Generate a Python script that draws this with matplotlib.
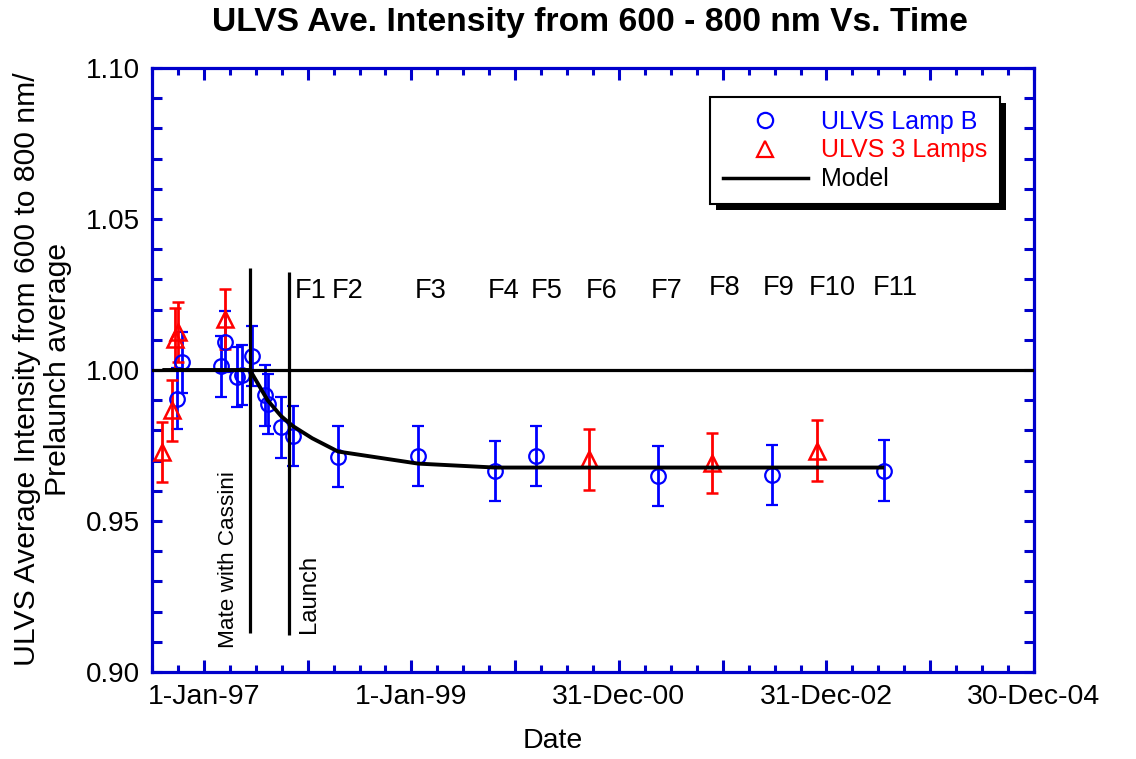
import matplotlib
matplotlib.use("Agg")
import matplotlib.pyplot as plt
import matplotlib.dates as mdates
from matplotlib.lines import Line2D
from matplotlib.patches import Rectangle
from matplotlib.ticker import FixedLocator, FixedFormatter
import numpy as np

plt.rcParams['font.family'] = ['Liberation Sans', 'DejaVu Sans']

# ---------------- data ----------------
lampb_dates = ['1996-09-30', '1996-10-16', '1997-03-02', '1997-03-16', '1997-04-29',
               '1997-05-15', '1997-06-21', '1997-08-05', '1997-08-13', '1997-09-29',
               '1997-11-09', '1998-04-18', '1999-01-25', '1999-10-22', '2000-03-15',
               '2001-05-19', '2002-06-21', '2003-07-22']
lampb_vals = [0.9905, 1.0025, 1.0012, 1.0094, 0.9976,
              0.9984, 1.0047, 0.9916, 0.9887, 0.9810,
              0.9781, 0.9713, 0.9715, 0.9666, 0.9716,
              0.9650, 0.9653, 0.9667]
lampb_err = [0.01, 0.01, 0.01, 0.01, 0.01, 0.01, 0.01, 0.01, 0.01, 0.01,
             0.01, 0.01, 0.01, 0.01, 0.01, 0.01, 0.01, 0.01]

lamps3_dates = ['1996-08-08', '1996-09-12', '1996-09-21', '1996-10-01', '1997-03-17',
                '2000-09-16', '2001-11-22', '2002-11-29']
lamps3_vals = [0.9729, 0.9866, 1.0104, 1.0125, 1.0168, 0.9704, 0.9692, 0.9733]
lamps3_err = [0.01, 0.01, 0.01, 0.01, 0.01, 0.01, 0.01, 0.01]

model_dates = ['1996-08-08', '1997-06-12', '1997-08-13', '1997-09-29', '1997-11-09',
               '1998-01-17', '1998-04-18', '1999-01-25', '1999-10-22', '2003-07-22']
model_vals = [1.0000, 1.0000, 0.9900, 0.9848, 0.9815, 0.9774, 0.9730, 0.9690, 0.9677, 0.9677]

flyby_labels = ['F1', 'F2', 'F3', 'F4', 'F5', 'F6', 'F7', 'F8', 'F9', 'F10', 'F11']
flyby_label_dates = ['1997-11-15', '1998-03-28', '1999-01-11', '1999-09-25', '2000-02-24',
                     '2000-09-04', '2001-04-21', '2001-11-12', '2002-05-20', '2002-10-29',
                     '2003-06-12']
flyby_label_y = [1.0237, 1.0237, 1.0237, 1.0237, 1.0237, 1.0237, 1.0237,
                 1.0247, 1.0247, 1.0247, 1.0247]

event_labels = ['Mate with Cassini', 'Launch']
event_dates = ['1997-06-12', '1997-10-28']
event_top = [1.0337, 1.0326]
event_bottom = [0.9128, 0.9121]
event_label_y = [0.9079, 0.9128]

xtick_dates = ['1997-01-01', '1999-01-01', '2000-12-31', '2002-12-31', '2004-12-30']
xtick_labels = ['1-Jan-97', '1-Jan-99', '31-Dec-00', '31-Dec-02', '30-Dec-04']
ytick_vals = [0.90, 0.95, 1.00, 1.05, 1.10]
ytick_labels = ['0.90', '0.95', '1.00', '1.05', '1.10']

# ---------------- figure ----------------
W, H = 1136, 759
fig = plt.figure(figsize=(W / 100, H / 100), dpi=100)
ax = fig.add_axes([152 / W, 1 - 672 / H, (1034 - 152) / W, (672 - 68) / H])

AXBLUE = '#0000CC'
BLUE = '#0000FF'
RED = '#FF0000'

d2n = mdates.datestr2num
lb_x = d2n(lampb_dates)
l3_x = d2n(lamps3_dates)
md_x = d2n(model_dates)
xt = d2n(xtick_dates)

base = xt[0]
xmin = base - 182.5
xmax = xt[-1]

# reference line at 1.00
ax.axhline(1.0, color='black', lw=2.3, zorder=4)

ax.errorbar(lb_x, lampb_vals, yerr=lampb_err, fmt='o', ms=10.5, mfc='none', mec=BLUE,
            mew=1.6, ecolor=BLUE, elinewidth=2.0, capsize=4.5, capthick=2.0, zorder=3)
ax.errorbar(l3_x, lamps3_vals, yerr=lamps3_err, fmt='^', ms=11, mfc='none', mec=RED,
            mew=1.8, ecolor=RED, elinewidth=2.0, capsize=4.5, capthick=2.0, zorder=3)
ax.plot(md_x, model_vals, color='black', lw=2.8, zorder=4, solid_capstyle='butt')

ev_x = d2n(event_dates)
ax.vlines(ev_x, event_bottom, event_top, color='black', lw=2.3, zorder=4)
ax.annotate(event_labels[0], xy=(ev_x[0], event_label_y[0]), xytext=(-11, 0),
            textcoords='offset pixels', rotation=90, ha='right', va='bottom', fontsize=16.2)
ax.annotate(event_labels[1], xy=(ev_x[1], event_label_y[1]), xytext=(9, 0),
            textcoords='offset pixels', rotation=90, ha='left', va='bottom', fontsize=17.2)

for lab, d, yv in zip(flyby_labels, d2n(flyby_label_dates), flyby_label_y):
    ax.text(d, yv, lab, ha='left', va='baseline', fontsize=19.6)

# axes
ax.set_xlim(xmin, xmax)
ax.set_ylim(0.90, 1.10)

major_x = np.arange(base - 365, xmax + 1, 365.0)
minor_x = np.arange(base - 365, xmax + 1, 91.25)
ax.xaxis.set_major_locator(FixedLocator(major_x))
ax.xaxis.set_minor_locator(FixedLocator(minor_x))
maj_labels = []
for v in major_x:
    lab = ''
    for t, tl in zip(xt, xtick_labels):
        if abs(v - t) < 3:
            lab = tl
    maj_labels.append(lab)
ax.xaxis.set_major_formatter(FixedFormatter(maj_labels))

ax.yaxis.set_major_locator(FixedLocator(ytick_vals))
ax.yaxis.set_major_formatter(FixedFormatter(ytick_labels))
ax.yaxis.set_minor_locator(FixedLocator(np.arange(0.90, 1.1001, 0.01)))

ax.tick_params(which='both', direction='in', top=True, right=True, color=AXBLUE, width=2.2)
ax.tick_params(axis='x', which='major', length=8.5, labelsize=20.5, pad=8.6)
ax.tick_params(axis='x', which='minor', length=5)
ax.tick_params(axis='y', which='both', length=7, labelsize=20, pad=8.6)
for s in ax.spines.values():
    s.set_color(AXBLUE)
    s.set_linewidth(2.3)

# legend
handles = [Line2D([], [], ls='none', marker='o', ms=11, mfc='none', mec=BLUE, mew=1.6),
           Line2D([], [], ls='none', marker='^', ms=11, mfc='none', mec=RED, mew=1.6),
           Line2D([], [], color='black', lw=2.5)]
leg = ax.legend(handles, ['ULVS Lamp B', 'ULVS 3 Lamps', 'Model'],
                loc='upper left', bbox_to_anchor=((710 - 152) / 882, (672 - 97) / 604),
                fontsize=18, labelcolor=[BLUE, RED, 'black'], frameon=True, fancybox=False,
                framealpha=1, edgecolor='black', handlelength=3.4, handletextpad=0.55,
                borderpad=0.5, labelspacing=0.2, borderaxespad=0)
leg.get_frame().set_linewidth(1.5)
leg.set_zorder(10)

# titles / labels
fig.text(590 / W, 1 - 22 / H, 'ULVS Ave. Intensity from 600 - 800 nm Vs. Time',
         ha='center', va='center', fontsize=24.2, fontweight='bold')
fig.text(553 / W, 1 - 741 / H, 'Date', ha='center', va='center', fontsize=20.5)
fig.text(42.5 / W, 1 - 369 / H, 'ULVS Average Intensity from 600 to 800 nm/\nPrelaunch average',
         ha='center', va='center', rotation=90, multialignment='center', fontsize=21.7,
         linespacing=1.15)

# legend shadow
fig.canvas.draw()
bb = leg.get_window_extent()
shadow = Rectangle((bb.x0 + 6, bb.y0 - 6), bb.width, bb.height, transform=None,
                   facecolor='black', edgecolor='none', zorder=9.5, clip_on=False)
ax.add_artist(shadow)

fig.savefig('out.png', dpi=100)
